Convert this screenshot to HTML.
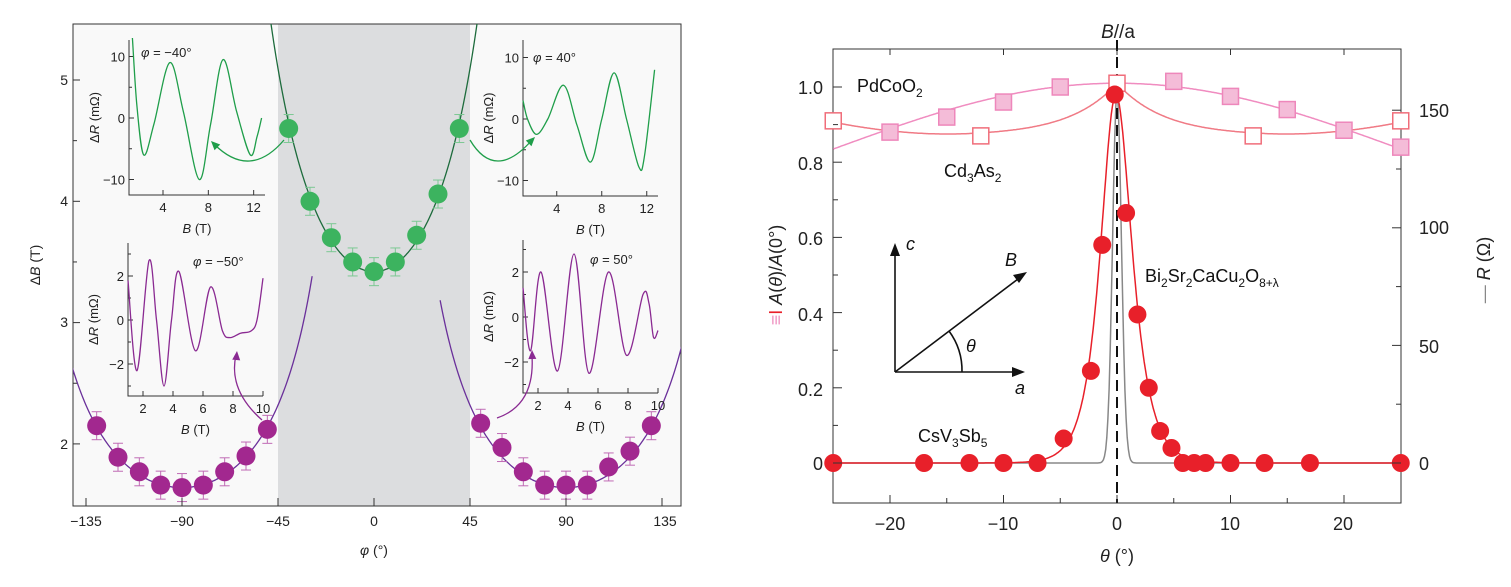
<!DOCTYPE html>
<html><head><meta charset="utf-8"><style>
body{margin:0;background:#fff;}
svg{display:block;font-family:"Liberation Sans",sans-serif;}
</style></head><body>
<svg id="s" width="1511" height="587" viewBox="0 0 1511 587" xmlns="http://www.w3.org/2000/svg">
<rect x="73" y="24" width="608" height="482" fill="#f9f9f9" stroke="none"/>
<rect x="278" y="24" width="192" height="482" fill="#dcdddf"/>
<rect x="73" y="24" width="608" height="482" fill="none" stroke="#333" stroke-width="1"/>
<g id="L"></g>
<g font-size="14" fill="#222" text-anchor="middle">
<text x="86" y="526">−135</text><text x="182" y="526">−90</text><text x="278" y="526">−45</text>
<text x="374" y="526">0</text><text x="470" y="526">45</text><text x="566" y="526">90</text><text x="665" y="526">135</text>
<text x="374" y="555" font-style="italic">φ <tspan font-style="normal">(°)</tspan></text>
</g>
<g font-size="14" fill="#222" text-anchor="end">
<text x="68" y="85">5</text><text x="68" y="206">4</text><text x="68" y="327">3</text><text x="68" y="449">2</text>
</g>
<text transform="translate(40,265) rotate(-90)" font-size="14" text-anchor="middle" fill="#222">Δ<tspan font-style="italic">B</tspan> (T)</text>

<rect x="833" y="49" width="568" height="454" fill="#fff" stroke="#333" stroke-width="1"/>
<g id="R"></g>
<g font-size="18" fill="#222" text-anchor="end">
<text x="823" y="94">1.0</text><text x="823" y="170">0.8</text><text x="823" y="245">0.6</text>
<text x="823" y="321">0.4</text><text x="823" y="396">0.2</text><text x="823" y="470">0</text>
</g>
<g font-size="18" fill="#222" text-anchor="start">
<text x="1419" y="117">150</text><text x="1419" y="234">100</text><text x="1419" y="353">50</text><text x="1419" y="470">0</text>
</g>
<g font-size="18" fill="#222" text-anchor="middle">
<text x="890" y="530">−20</text><text x="1003" y="530">−10</text><text x="1117" y="530">0</text>
<text x="1230" y="530">10</text><text x="1343" y="530">20</text>
<text x="1117" y="562" font-style="italic">θ <tspan font-style="normal">(°)</tspan></text>
<text x="1118" y="38" font-size="19"><tspan font-style="italic">B</tspan>//a</text>
</g>
<text transform="translate(782,275) rotate(-90)" font-size="18" text-anchor="middle" fill="#222"><tspan fill="#ef8fbf">≡</tspan><tspan fill="#e8202a">Ι</tspan> <tspan font-style="italic">A</tspan>(<tspan font-style="italic">θ</tspan>)/<tspan font-style="italic">A</tspan>(0°)</text>
<text transform="translate(1490,270) rotate(-90)" font-size="18" text-anchor="middle" fill="#222"><tspan fill="#888">—</tspan> <tspan font-style="italic">R</tspan> (Ω)</text>
<g font-size="18" fill="#111">
<text x="857" y="92">PdCoO<tspan font-size="12" dy="5">2</tspan></text>
<text x="944" y="177">Cd<tspan font-size="12" dy="5">3</tspan><tspan dy="-5">As</tspan><tspan font-size="12" dy="5">2</tspan></text>
<text x="1145" y="282">Bi<tspan font-size="12" dy="5">2</tspan><tspan dy="-5">Sr</tspan><tspan font-size="12" dy="5">2</tspan><tspan dy="-5">CaCu</tspan><tspan font-size="12" dy="5">2</tspan><tspan dy="-5">O</tspan><tspan font-size="12" dy="5">8+λ</tspan></text>
<text x="918" y="442">CsV<tspan font-size="12" dy="5">3</tspan><tspan dy="-5">Sb</tspan><tspan font-size="12" dy="5">5</tspan></text>
<text x="906" y="250" font-style="italic">c</text>
<text x="1005" y="266" font-style="italic">B</text>
<text x="1015" y="394" font-style="italic">a</text>
<text x="966" y="352" font-style="italic">θ</text>
</g>
<g stroke="#111" stroke-width="1.6" fill="none">
<line x1="895" y1="372" x2="895" y2="250"/><line x1="895" y1="372" x2="1018" y2="372"/><line x1="895" y1="372" x2="1022" y2="276"/>
<path d="M962,372 A67,67 0 0 0 949,331"/>
</g>
<g fill="#111">
<polygon points="895,243 890,256 900,256"/><polygon points="1025,372 1012,367 1012,377"/><polygon points="1027,272 1013,275 1019,283"/>
</g>
</svg>
<script>
var NS="http://www.w3.org/2000/svg";
function el(p,t,a){var e=document.createElementNS(NS,t);for(var k in a)e.setAttribute(k,a[k]);p.appendChild(e);return e;}
function txt(p,x,y,s,a){var e=el(p,"text",Object.assign({x:x,y:y},a||{}));e.textContent=s;return e;}
function cr(pts){var d="M"+pts[0][0].toFixed(1)+","+pts[0][1].toFixed(1);
for(var i=0;i<pts.length-1;i++){var p0=pts[i-1]||pts[i],p1=pts[i],p2=pts[i+1],p3=pts[i+2]||p2;
d+="C"+(p1[0]+(p2[0]-p0[0])/6).toFixed(1)+","+(p1[1]+(p2[1]-p0[1])/6).toFixed(1)+" "+(p2[0]-(p3[0]-p1[0])/6).toFixed(1)+","+(p2[1]-(p3[1]-p1[1])/6).toFixed(1)+" "+p2[0].toFixed(1)+","+p2[1].toFixed(1);}
return d;}
var L=document.getElementById("L");
var X=function(f){return 374+f*96/45;},Y=function(v){return 80+(5-v)*121.3;};
var cp=el(L,"clipPath",{id:"cl"});el(cp,"rect",{x:73,y:24,width:608,height:482});
var g=el(L,"g",{"clip-path":"url(#cl)"});
function curve(fn,a,b,col){var p=[];for(var f=a;f<=b;f+=0.5){p.push(X(f)+","+Y(fn(f)).toFixed(1));}el(g,"polyline",{points:p.join(" "),fill:"none",stroke:col,"stroke-width":1.3});}
curve(function(f){return 3.42/Math.pow(Math.cos(f*Math.PI/180),1.15);},-52,52,"#1d6b3c");
curve(function(f){return 1.64/Math.cos((f+90)*Math.PI/180);},-150,-29,"#6a2f9a");
curve(function(f){return 1.64/Math.cos((f-90)*Math.PI/180);},31,150,"#6a2f9a");
function dots(list,col,ec){list.forEach(function(d){var x=X(d[0]),y=Y(d[1]);
el(g,"line",{x1:x,x2:x,y1:y-14,y2:y+14,stroke:ec,"stroke-width":1});
el(g,"line",{x1:x-5,x2:x+5,y1:y-14,y2:y-14,stroke:ec,"stroke-width":1});
el(g,"line",{x1:x-5,x2:x+5,y1:y+14,y2:y+14,stroke:ec,"stroke-width":1});
el(g,"circle",{cx:x,cy:y,r:9.5,fill:col});});}
dots([[-40,4.6],[-30,4.0],[-20,3.7],[-10,3.5],[0,3.42],[10,3.5],[20,3.72],[30,4.06],[40,4.6]],"#3cb35f","#7cc893");
dots([[-130,2.15],[-120,1.89],[-110,1.77],[-100,1.66],[-90,1.64],[-80,1.66],[-70,1.77],[-60,1.9],[-50,2.12],
[50,2.17],[60,1.97],[70,1.77],[80,1.66],[90,1.66],[100,1.66],[110,1.81],[120,1.94],[130,2.15]],"#a2288f","#c06bb5");
[-135,-90,-45,0,45,90,135].forEach(function(f){el(L,"line",{x1:X(f),x2:X(f),y1:506,y2:498,stroke:"#333"});});
[5,4,3,2].forEach(function(v){el(L,"line",{x1:73,x2:80,y1:Y(v),y2:Y(v),stroke:"#333"});});
[4.5,3.5,2.5].forEach(function(v){el(L,"line",{x1:73,x2:77,y1:Y(v),y2:Y(v),stroke:"#333"});});
function inset(o){
 var bx=function(b){return o.x0+(b-o.b0)*(o.x1-o.x0)/(o.b1-o.b0);};
 var by=function(v){return o.yz-v*o.sy;};
 el(L,"path",{d:"M"+o.x0+","+o.top+"V"+o.bot+"H"+o.x1,fill:"none",stroke:"#333","stroke-width":1});
 o.xt.forEach(function(b){el(L,"line",{x1:bx(b),x2:bx(b),y1:o.bot,y2:o.bot-5,stroke:"#333"});txt(L,bx(b),o.bot+17,b,{"font-size":13,"text-anchor":"middle",fill:"#222"});});
 o.yt.forEach(function(v){el(L,"line",{x1:o.x0,x2:o.x0+5,y1:by(v),y2:by(v),stroke:"#333"});txt(L,o.x0-4,by(v)+5,(v<0?"−":"")+Math.abs(v),{"font-size":13,"text-anchor":"end",fill:"#222"});});
 o.ym.forEach(function(v){el(L,"line",{x1:o.x0,x2:o.x0+3,y1:by(v),y2:by(v),stroke:"#333"});});
 var t=txt(L,(o.x0+o.x1)/2,o.bot+38,"",{"font-size":13,"text-anchor":"middle",fill:"#222"});t.innerHTML='<tspan font-style="italic">B</tspan> (T)';
 var r=txt(L,0,0,"",{"font-size":13,"text-anchor":"middle",fill:"#222",transform:"translate("+(o.x0-30)+","+((o.top+o.bot)/2)+") rotate(-90)"});r.innerHTML='Δ<tspan font-style="italic">R</tspan> (mΩ)';
 var l=txt(L,o.lx,o.ly,"",{"font-size":13,fill:"#222"});l.innerHTML='<tspan font-style="italic">φ</tspan> = '+o.lab;
 el(L,"path",{d:cr(o.pts.map(function(p){return [bx(p[0]),by(p[1])];})),fill:"none",stroke:o.col,"stroke-width":1.3});
}
inset({x0:129,x1:265,b0:1,b1:13,top:40,bot:195,yz:118,sy:6.15,xt:[4,8,12],yt:[10,0,-10],ym:[5,-5],lab:"−40°",lx:141,ly:57,col:"#1f9e4a",
 pts:[[1.3,13],[1.7,2],[2.3,-6],[3.2,-1],[4.6,9],[5.8,1],[7.2,-10],[8.2,-1],[9.3,9.5],[10.5,1],[11.7,-6],[12.3,-3],[12.7,0]]});
inset({x0:523,x1:658,b0:1,b1:13,top:40,bot:196,yz:119,sy:6.15,xt:[4,8,12],yt:[10,0,-10],ym:[5,-5],lab:"40°",lx:533,ly:62,col:"#1f9e4a",
 pts:[[1,3],[1.4,0],[2.2,-2.5],[3.2,0],[4.6,5.5],[5.8,-1],[7,-7],[8,0],[9.1,7.5],[10.2,0],[11.3,-7.8],[11.8,-6],[12.7,8]]});
inset({x0:128,x1:263,b0:1,b1:10,top:243,bot:396,yz:320,sy:22,xt:[2,4,6,8,10],yt:[2,0,-2],ym:[1,-1,3,-3],lab:"−50°",lx:193,ly:266,col:"#8a2a92",
 pts:[[1,1.8],[1.6,-2.3],[2.4,2.7],[2.9,0],[3.4,-3.0],[3.9,0],[4.4,2.2],[5.5,-1.4],[6.5,1.5],[7.3,-0.5],[7.8,-0.8],[8.5,-0.6],[9.2,-0.5],[9.6,0],[10,1.9]]});
inset({x0:523,x1:658,b0:1,b1:10,top:240,bot:393,yz:317,sy:22.5,xt:[2,4,6,8,10],yt:[2,0,-2],ym:[1,-1,3,-3],lab:"50°",lx:590,ly:264,col:"#8a2a92",
 pts:[[1,1.3],[1.5,-1.5],[2.2,2.0],[3.3,-2.4],[4.4,2.8],[5.4,-2.5],[6.7,2.0],[7.9,-1.7],[9,1.0],[9.4,0.6],[9.7,-0.9],[10,-0.6]]});
function arr(d,col,tip,ang){el(L,"path",{d:d,fill:"none",stroke:col,"stroke-width":1.3});
 var a=ang*Math.PI/180,x=tip[0],y=tip[1];
 el(L,"polygon",{points:x+","+y+" "+(x-9*Math.cos(a)+4*Math.sin(a))+","+(y-9*Math.sin(a)-4*Math.cos(a))+" "+(x-9*Math.cos(a)-4*Math.sin(a))+","+(y-9*Math.sin(a)+4*Math.cos(a)),fill:col});}
arr("M284,140 Q250,180 214,144","#1f9e4a",[211,141],-135);
arr("M470,140 Q495,182 532,140","#1f9e4a",[535,137],-45);
arr("M262,420 Q228,390 236,355","#8a2a92",[237,351],-85);
arr("M497,418 Q535,405 532,356","#8a2a92",[532,350],-92);

var R=document.getElementById("R");
var TX=function(t){return 1117+t*11.35;},TY=function(v){return 463-v*376;};
var c2=el(R,"clipPath",{id:"c2"});el(c2,"rect",{x:833,y:49,width:568,height:454});
var h=el(R,"g",{"clip-path":"url(#c2)"});
function fc(fn,col,w){var p=[];for(var t=-25;t<=25.001;t+=0.1){p.push(TX(t).toFixed(1)+","+TY(fn(t)).toFixed(1));}el(h,"polyline",{points:p.join(" "),fill:"none",stroke:col,"stroke-width":w});}
fc(function(t){return 0.835+0.175*Math.cos(t*Math.PI/50);},"#f08cc0",1.5);
fc(function(t){var a=Math.abs(t);return 0.87+0.14*Math.exp(-a/4.2)+(a>13?0.00025*(a-13)*(a-13):0);},"#f07a85",1.5);
fc(function(t){return 0.985*Math.exp(-Math.pow(t/0.55,2));},"#888",1.5);
fc(function(t){var d=t+0.1,w=d<0?1.2:1.27;return 0.98/Math.cosh(d/w);},"#e8202a",1.5);
el(R,"line",{x1:1117,x2:1117,y1:40,y2:503,stroke:"#111","stroke-width":2,"stroke-dasharray":"11,6"});
[[-20,0.88],[-15,0.92],[-10,0.96],[-5,1.0],[5,1.015],[10,0.975],[15,0.94],[20,0.885],[25,0.84]].forEach(function(d){
 el(R,"rect",{x:TX(d[0])-8,y:TY(d[1])-8,width:16,height:16,fill:"#f4bcd8",stroke:"#ee87bb","stroke-width":1.5});});
[[-25,0.91],[-12,0.87],[0,1.01],[12,0.87],[25,0.91]].forEach(function(d){
 el(R,"rect",{x:TX(d[0])-8,y:TY(d[1])-8,width:16,height:16,fill:"#fff",stroke:"#f06d7a","stroke-width":1.5});});
[[-25,0],[-17,0],[-13,0],[-10,0],[-7,0],[-4.7,0.065],[-2.3,0.245],[-1.3,0.58],[-0.2,0.98],[0.8,0.665],[1.8,0.395],[2.8,0.2],[3.8,0.085],[4.8,0.04],[5.8,0],[6.8,0],[7.8,0],[10,0],[13,0],[17,0],[25,0]].forEach(function(d){
 el(R,"circle",{cx:TX(d[0]),cy:TY(d[1]),r:9,fill:"#e8202a"});});
[-20,-10,0,10,20].forEach(function(t){el(R,"line",{x1:TX(t),x2:TX(t),y1:503,y2:495,stroke:"#333"});el(R,"line",{x1:TX(t),x2:TX(t),y1:49,y2:55,stroke:"#333"});});
[-15,-5,5,15].forEach(function(t){el(R,"line",{x1:TX(t),x2:TX(t),y1:503,y2:498,stroke:"#333"});});
[0,0.2,0.4,0.6,0.8,1.0].forEach(function(v){el(R,"line",{x1:833,x2:842,y1:TY(v),y2:TY(v),stroke:"#333"});});
[0.1,0.3,0.5,0.7,0.9].forEach(function(v){el(R,"line",{x1:833,x2:838,y1:TY(v),y2:TY(v),stroke:"#333"});});
[0,50,100,150].forEach(function(r){var y=463-r*2.352;el(R,"line",{x1:1392,x2:1401,y1:y,y2:y,stroke:"#333"});});
[25,75,125].forEach(function(r){var y=463-r*2.352;el(R,"line",{x1:1396,x2:1401,y1:y,y2:y,stroke:"#333"});});
</script>
</body></html>
